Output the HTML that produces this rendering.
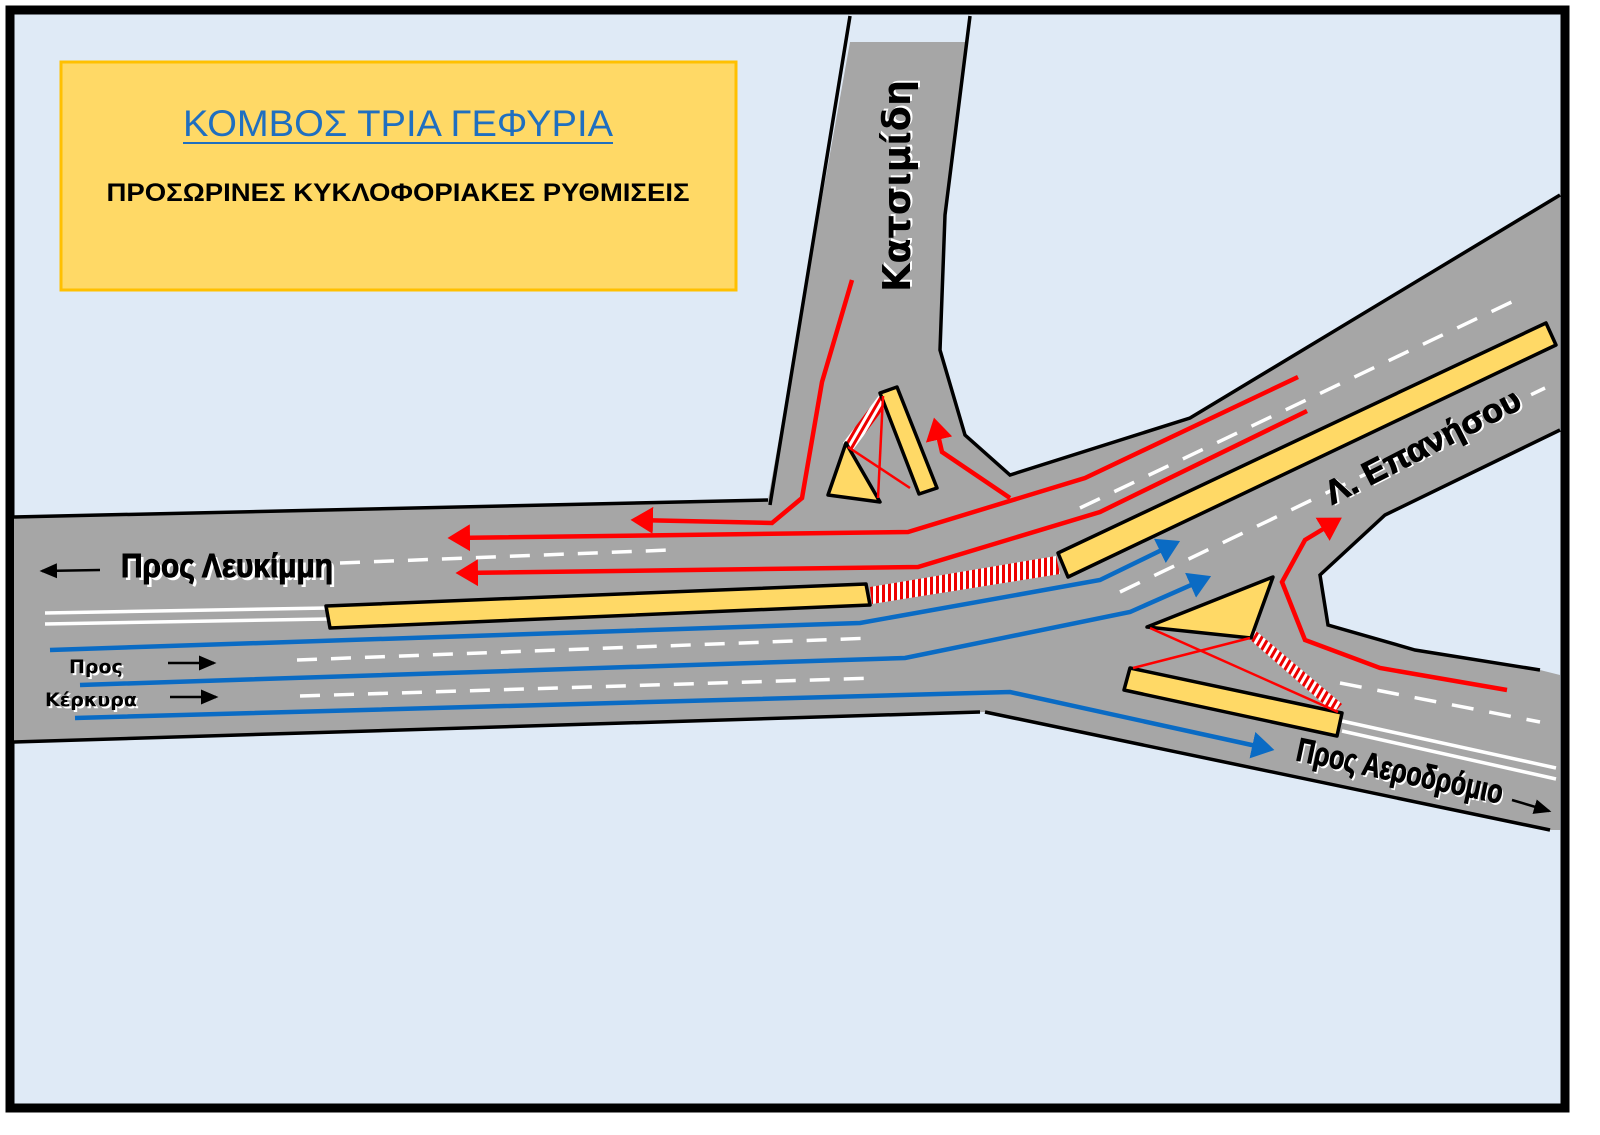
<!DOCTYPE html>
<html><head><meta charset="utf-8"><style>
html,body{margin:0;padding:0;background:#fff}
svg{display:block}
.n{font-family:"Liberation Sans",sans-serif;font-weight:bold}
.d{font-family:"DejaVu Sans",sans-serif;font-weight:bold}
</style></head><body>
<svg width="1600" height="1135" viewBox="0 0 1600 1135" xmlns="http://www.w3.org/2000/svg">
<defs>
<pattern id="h" width="6" height="6" patternUnits="userSpaceOnUse"><rect width="6" height="6" fill="#fff"/><rect width="3" height="6" fill="#e00"/></pattern>
<pattern id="h2" width="6" height="6" patternUnits="userSpaceOnUse" patternTransform="rotate(30)"><rect width="6" height="6" fill="#fff"/><rect width="3" height="6" fill="#e00"/></pattern>
<marker id="ar" markerWidth="6" markerHeight="6" refX="4" refY="3" orient="auto" markerUnits="strokeWidth"><path d="M0,0 L5,3 L0,6 z" fill="#f00"/></marker>
<marker id="ab" markerWidth="6" markerHeight="6" refX="4" refY="3" orient="auto" markerUnits="strokeWidth"><path d="M0,0 L5,3 L0,6 z" fill="#0a6bc4"/></marker>
<marker id="ak" markerWidth="8" markerHeight="8" refX="6" refY="4" orient="auto" markerUnits="strokeWidth"><path d="M0,1 L7,4 L0,7 z" fill="#000"/></marker>
</defs>
<rect x="0" y="0" width="1600" height="1135" fill="#fff"/>
<rect x="10" y="10" width="1555" height="1098" fill="#dfeaf6" stroke="#000" stroke-width="9"/>
<polygon points="14,517 768,500 850,42 968,42 945,215 940,350 965,435 1010,475 1190,418 1560,195 1560,430 1385,515 1320,575 1328,625 1415,650 1540,670 1560,675 1560,830 1550,830 985,712 14,742" fill="#a6a6a6"/>
<g fill="none" stroke="#000" stroke-width="3.5">
<polyline points="14,517 768,500"/>
<polyline points="770,505 850,16"/>
<polyline points="970,16 945,215 940,350 965,435 1010,475 1190,418 1560,195"/>
<polyline points="1560,430 1385,515 1320,575 1328,625 1415,650 1540,670"/>
<polyline points="1550,830 985,712"/>
<polyline points="980,712 14,742"/>
</g>
<g stroke="#fff" stroke-width="3.5" fill="none">
<line x1="340" y1="563" x2="670" y2="550" stroke-dasharray="20,14"/>
<line x1="297" y1="660" x2="872" y2="638" stroke-dasharray="20,14"/>
<line x1="300" y1="696" x2="876" y2="678" stroke-dasharray="20,14"/>
<line x1="1080" y1="508" x2="1520" y2="298" stroke-dasharray="22,16"/>
<line x1="1120" y1="592" x2="1545" y2="388" stroke-dasharray="22,16"/>
<line x1="1340" y1="683" x2="1540" y2="722" stroke-dasharray="22,16"/>
<line x1="45" y1="613" x2="328" y2="608"/>
<line x1="45" y1="624" x2="328" y2="619"/>
<line x1="1342" y1="721" x2="1556" y2="768"/>
<line x1="1342" y1="731" x2="1556" y2="779"/>
</g>
<polygon points="870,587 1056,556 1060,574 872,604" fill="url(#h)"/>
<polygon points="843,443 880,394 890,400 853,450" fill="url(#h2)"/>
<polygon points="1247,637 1256,631 1342,704 1334,713" fill="url(#h2)"/>
<g fill="#ffd966" stroke="#000" stroke-width="3.5" stroke-linejoin="round">
<polygon points="326,606 866,584 870,605 330,628"/>
<polygon points="1058,553 1546,323 1556,345 1068,577"/>
<polygon points="846,443 880,502 828,495"/>
<polygon points="880,393 897,387 937,488 919,494"/>
<polygon points="1147,627 1273,577 1251,638"/>
<polygon points="1130,668 1342,713 1337,736 1124,690"/>
</g>
<g stroke="#f00" stroke-width="2.5" fill="none">
<polyline points="848,447 910,488"/>
<polyline points="878,498 883,396"/>
<polyline points="1150,628 1338,712"/>
<polyline points="1133,668 1250,638"/>
</g>
<g stroke="#f00" stroke-width="4.5" fill="none">
<polyline points="852,280 822,382 802,498 772,523 635,520" marker-end="url(#ar)"/>
<polyline points="1298,377 1085,478 908,532 452,538" marker-end="url(#ar)"/>
<polyline points="1307,411 1100,512 918,567 460,573" marker-end="url(#ar)"/>
<polyline points="1010,498 942,452 935,422" marker-end="url(#ar)"/>
<polyline points="1507,690 1380,668 1305,640 1282,582 1305,540 1338,520" marker-end="url(#ar)"/>
</g>
<g stroke="#0a6bc4" stroke-width="4.5" fill="none">
<polyline points="50,650 860,623 1100,580 1176,543" marker-end="url(#ab)"/>
<polyline points="80,685 905,658 1130,612 1207,578" marker-end="url(#ab)"/>
<polyline points="75,718 1010,692 1270,749" marker-end="url(#ab)"/>
</g>
<g stroke="#000" stroke-width="2.5" fill="none">
<line x1="100" y1="570" x2="42" y2="571" marker-end="url(#ak)"/>
<line x1="168" y1="663" x2="214" y2="663" marker-end="url(#ak)"/>
<line x1="170" y1="697" x2="216" y2="697" marker-end="url(#ak)"/>
<line x1="1512" y1="800" x2="1549" y2="811" marker-end="url(#ak)"/>
</g>
<g class="n" font-size="33" stroke-width="1">
<text x="124" y="580" fill="#fff" textLength="212" lengthAdjust="spacingAndGlyphs">Προς Λευκίμμη</text>
<text x="121" y="577" fill="#000" stroke="#000" textLength="212" lengthAdjust="spacingAndGlyphs">Προς Λευκίμμη</text>
<g transform="translate(1332,505) rotate(-27)"><text x="2" y="2" fill="#fff" textLength="215" lengthAdjust="spacingAndGlyphs">Λ. Επανήσου</text><text x="0" y="0" fill="#000" stroke="#000" textLength="215" lengthAdjust="spacingAndGlyphs">Λ. Επανήσου</text></g>
<g transform="translate(1295,760) rotate(12)"><text x="2" y="2" fill="#fff" textLength="210" lengthAdjust="spacingAndGlyphs">Προς Αεροδρόμιο</text><text x="0" y="0" fill="#000" stroke="#000" textLength="210" lengthAdjust="spacingAndGlyphs">Προς Αεροδρόμιο</text></g>
</g>
<g class="d" font-size="19">
<text x="71" y="675" fill="#fff">Προς</text><text x="69" y="673">Προς</text>
<text x="47" y="708" fill="#fff">Κέρκυρα</text><text x="45" y="706">Κέρκυρα</text>
</g>
<g class="d" font-size="38" transform="translate(910,292) rotate(-90)">
<text x="2" y="2" fill="#fff" textLength="212" lengthAdjust="spacingAndGlyphs">Κατσιμίδη</text><text x="0" y="0" textLength="212" lengthAdjust="spacingAndGlyphs">Κατσιμίδη</text>
</g>
<rect x="61" y="62" width="675" height="228" fill="#ffd966" stroke="#ffc000" stroke-width="3"/>
<text x="398" y="136" text-anchor="middle" font-family="Liberation Sans,sans-serif" font-size="37" fill="#1f6fc0" textLength="430" lengthAdjust="spacingAndGlyphs">ΚΟΜΒΟΣ ΤΡΙΑ ΓΕΦΥΡΙΑ</text>
<line x1="183" y1="143" x2="613" y2="143" stroke="#1f6fc0" stroke-width="2"/>
<text x="398" y="201" text-anchor="middle" font-family="Liberation Sans,sans-serif" font-weight="bold" font-size="25" textLength="583" lengthAdjust="spacingAndGlyphs">ΠΡΟΣΩΡΙΝΕΣ ΚΥΚΛΟΦΟΡΙΑΚΕΣ ΡΥΘΜΙΣΕΙΣ</text>
</svg>
</body></html>
